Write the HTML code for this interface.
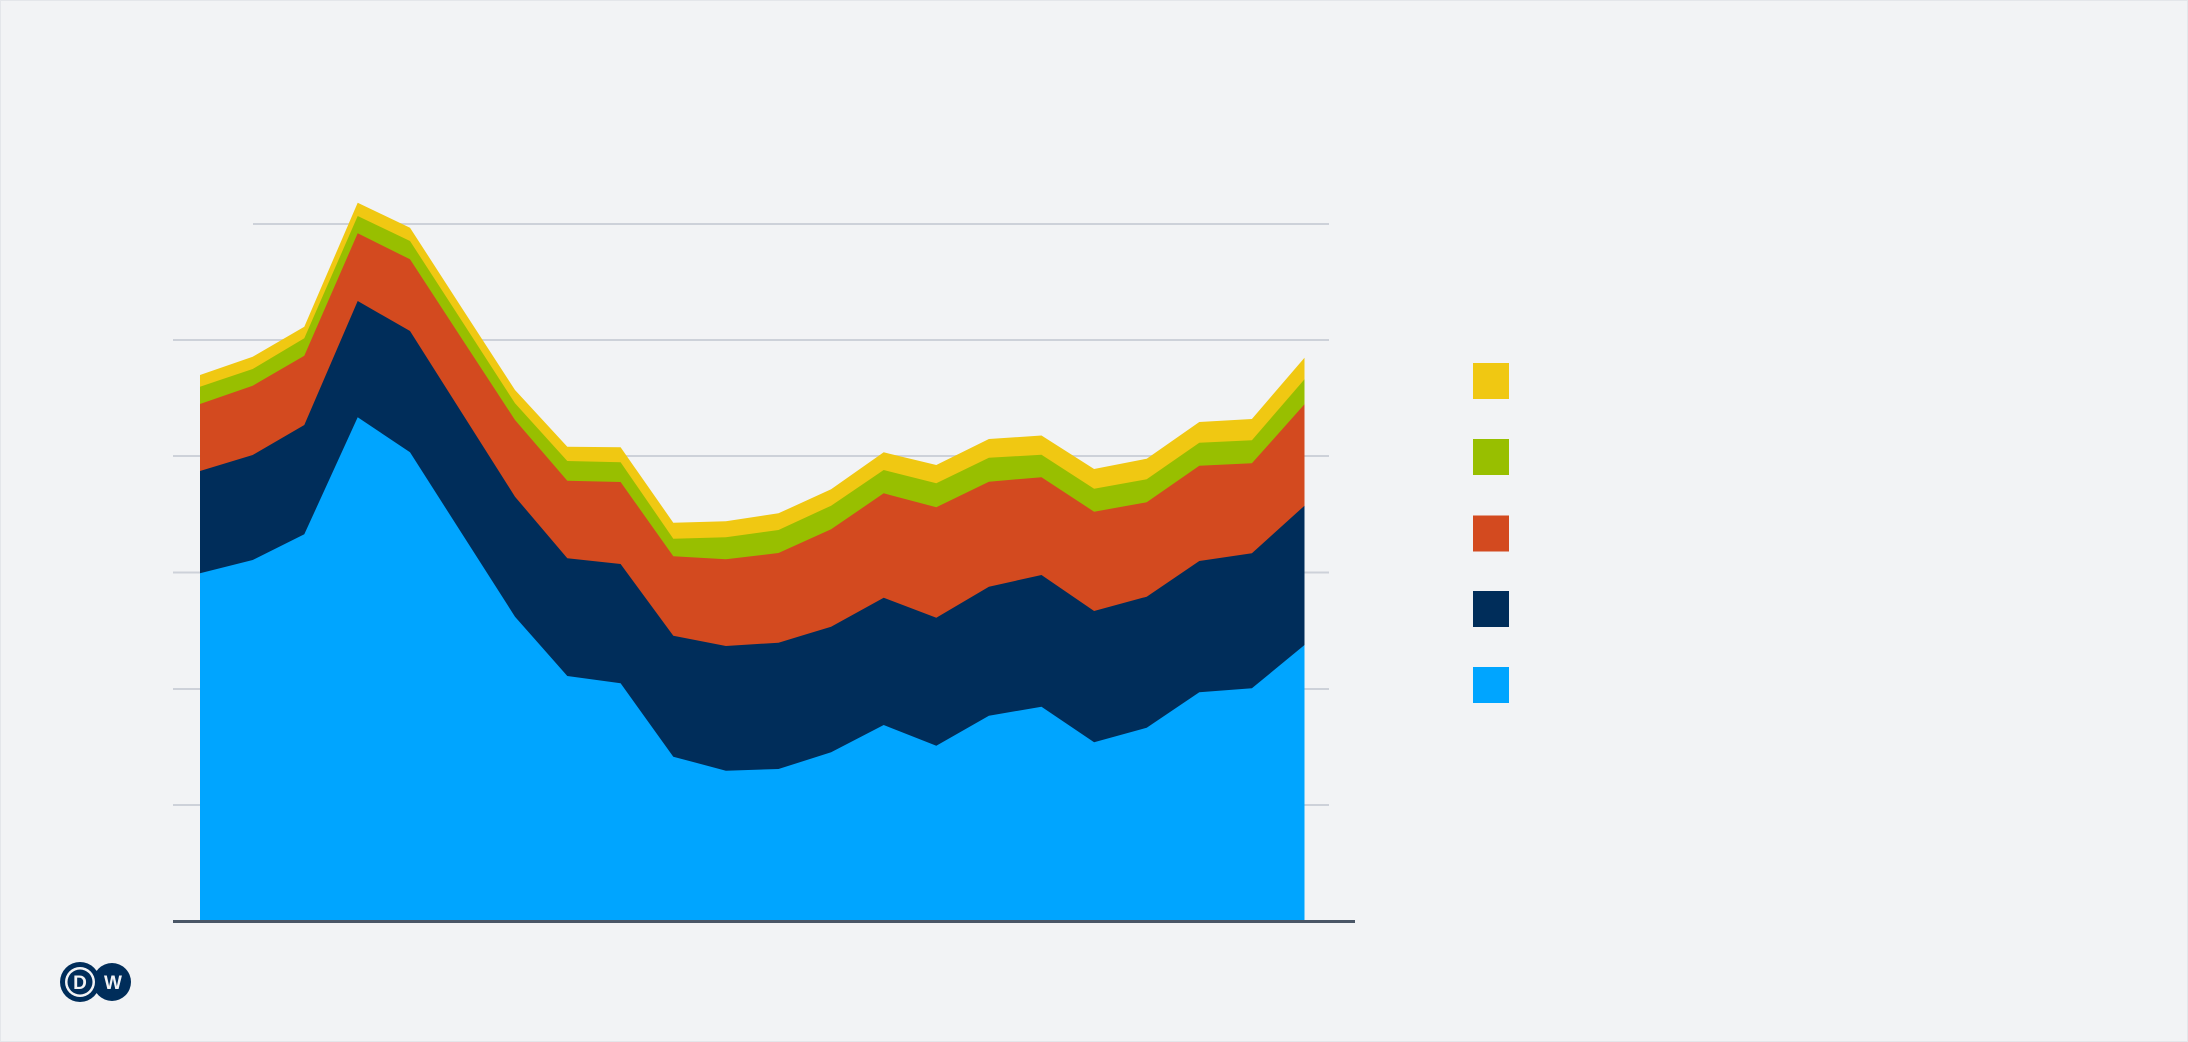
<!DOCTYPE html>
<html><head><meta charset="utf-8"><style>
html,body{margin:0;padding:0;background:#f2f3f5;}
svg{display:block;}
</style></head><body>
<svg width="2188" height="1042" viewBox="0 0 2188 1042" xmlns="http://www.w3.org/2000/svg">
<rect x="0" y="0" width="2188" height="1042" fill="#f2f3f5"/>
<rect x="0.5" y="0.5" width="2187" height="1041" fill="none" stroke="#e4e6ea" stroke-width="1"/>
<g stroke="#cdd1d9" stroke-width="2">
<line x1="253" y1="224" x2="1329" y2="224"/>
<line x1="173" y1="340" x2="1329" y2="340"/>
<line x1="173" y1="456" x2="1329" y2="456"/>
<line x1="173" y1="572.5" x2="1329" y2="572.5"/>
<line x1="173" y1="689" x2="1329" y2="689"/>
<line x1="173" y1="805" x2="1329" y2="805"/>
</g>
<polygon fill="#f0c812" points="200,921 200,375 252.7,356.7 304.3,326.7 357.7,202.7 410,227.7 462.5,309 515,390 567.3,446.7 620.6,447.3 673.3,522.7 725.9,521.3 778.5,513.3 831.1,489.3 883.7,452.3 936.3,465 988.9,439 1041.5,435.5 1094.1,469 1146.7,458.7 1199.3,422 1251.9,419 1304.5,357.7 1304.5,921"/>
<polygon fill="#98bf00" points="200,921 200,386.7 252.7,369 304.3,338.3 357.7,216 410,241 462.5,322 515,403.3 567.3,461 620.6,462.3 673.3,538.7 725.9,537.3 778.5,530 831.1,505.7 883.7,470 936.3,483.3 988.9,457.7 1041.5,454.8 1094.1,488.7 1146.7,479.3 1199.3,442.7 1251.9,440.3 1304.5,379.3 1304.5,921"/>
<polygon fill="#d34a1f" points="200,921 200,404 252.7,385.7 304.3,355.7 357.7,233.3 410,259.3 462.5,339.7 515,420 567.3,480.7 620.6,482 673.3,556.3 725.9,559.3 778.5,553 831.1,529.3 883.7,493.3 936.3,507.3 988.9,481.7 1041.5,477.2 1094.1,511.7 1146.7,502.3 1199.3,465.7 1251.9,463.3 1304.5,404.3 1304.5,921"/>
<polygon fill="#002d5a" points="200,921 200,471 252.7,455 304.3,425 357.7,301 410,331 462.5,413.9 515,496.7 567.3,558.3 620.6,564 673.3,635.7 725.9,646 778.5,642.7 831.1,626.7 883.7,597.7 936.3,617.7 988.9,586.7 1041.5,575 1094.1,611 1146.7,596.7 1199.3,561 1251.9,553.3 1304.5,505.7 1304.5,921"/>
<polygon fill="#00a5ff" points="200,921 200,573.3 252.7,560 304.3,534.3 357.7,417.3 410,452.3 462.5,534.5 515,616.7 567.3,676 620.6,683.3 673.3,756.7 725.9,770.7 778.5,769 831.1,752.3 883.7,725 936.3,745.7 988.9,715.7 1041.5,706.7 1094.1,742.3 1146.7,727.7 1199.3,692.3 1251.9,688.3 1304.5,645 1304.5,921"/>
<line x1="173" y1="921.5" x2="1355" y2="921.5" stroke="#4a5666" stroke-width="3"/>
<g>
<rect x="1473" y="363" width="36" height="36" fill="#f0c812"/>
<rect x="1473" y="439" width="36" height="36" fill="#98bf00"/>
<rect x="1473" y="515.5" width="36" height="36" fill="#d34a1f"/>
<rect x="1473" y="591" width="36" height="36" fill="#002d5a"/>
<rect x="1473" y="667" width="36" height="36" fill="#00a5ff"/>
</g>
<g>
<circle cx="112" cy="982" r="19" fill="#002d5a"/>
<circle cx="80" cy="982" r="20" fill="#002d5a"/>
<circle cx="80" cy="982" r="15" fill="#f2f3f5"/>
<circle cx="80" cy="982" r="12.5" fill="#002d5a"/>
<text x="80" y="989" text-anchor="middle" font-family="Liberation Sans, sans-serif" font-weight="bold" font-size="19" fill="#f2f3f5">D</text>
<text x="113" y="989" text-anchor="middle" font-family="Liberation Sans, sans-serif" font-weight="bold" font-size="19" fill="#f2f3f5">W</text>
</g>
</svg>
</body></html>
